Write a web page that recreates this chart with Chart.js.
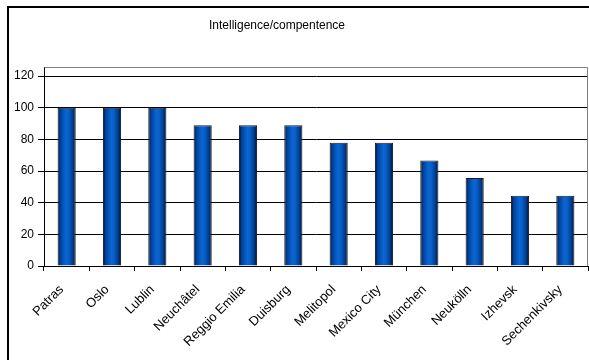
<!DOCTYPE html>
<html>
<head>
<meta charset="utf-8">
<script src="https://cdn.jsdelivr.net/npm/chart.js@4/dist/chart.umd.min.js"></script>
<style>
  html, body { margin: 0; padding: 0; background: #fff; }
  #wrap { width: 589px; height: 360px; position: relative; }
</style>
</head>
<body>
<div id="wrap"><canvas id="c" width="589" height="360"></canvas></div>
<script>
const titleText = 'Intelligence/compentence';
const categories = ['Patras', 'Oslo', 'Lublin', 'Neuchâtel', 'Reggio Emilia', 'Duisburg', 'Melitopol', 'Mexico City', 'München', 'Neukölln', 'Izhevsk', 'Sechenkivsky'];
const values = [100, 100, 100, 88.9, 88.9, 88.9, 77.8, 77.8, 66.7, 55.6, 44.4, 44.4];
const yTicks = [0, 20, 40, 60, 80, 100, 120];

Chart.defaults.font.family = '"Liberation Sans", Arial, sans-serif';
Chart.defaults.font.size = 12;
Chart.defaults.color = '#000';

function barGradient(ctx) {
  const chart = ctx.chart;
  const area = chart.chartArea;
  if (!area) return '#0050b4';
  const xs = chart.scales.x;
  const center = xs.getPixelForValue(ctx.dataIndex);
  const catW = (area.right - area.left) / categories.length;
  const half = catW * 0.4 / 2;
  const g = chart.ctx.createLinearGradient(center - half, 0, center + half, 0);
  g.addColorStop(0, '#00102a');
  g.addColorStop(0.15, '#00409a');
  g.addColorStop(0.45, '#0a66d2');
  g.addColorStop(0.6, '#0860c8');
  g.addColorStop(0.85, '#003a8c');
  g.addColorStop(1, '#000c22');
  return g;
}

const framePlugin = {
  id: 'frame',
  beforeDraw(chart) {
    const c = chart.ctx;
    c.save();
    c.fillStyle = '#fff';
    c.fillRect(0, 0, chart.width, chart.height);
    c.strokeStyle = '#000';
    c.lineWidth = 2;
    c.strokeRect(8, 7, 700, 500);
    c.restore();
  },
  beforeDatasetsDraw(chart) {
    const a = chart.chartArea;
    const c = chart.ctx;
    c.save();
    c.strokeStyle = '#808080';
    c.lineWidth = 1;
    c.beginPath();
    c.moveTo(Math.round(a.left) + 0.5, Math.round(a.top) + 0.5);
    c.lineTo(Math.round(a.right) - 0.5, Math.round(a.top) + 0.5);
    c.lineTo(Math.round(a.right) - 0.5, Math.round(a.bottom));
    c.stroke();
    c.restore();
  },
  afterDraw(chart) {
    const c = chart.ctx;
    c.save();
    c.font = '12px "Liberation Sans", Arial, sans-serif';
    c.fillStyle = '#000';
    c.textAlign = 'center';
    c.textBaseline = 'middle';
    c.fillText(titleText, 277, 26);
    c.restore();
  }
};

new Chart(document.getElementById('c'), {
  type: 'bar',
  data: {
    labels: categories,
    datasets: [{
      data: values,
      backgroundColor: barGradient,
      borderColor: '#1a1a1a',
      borderWidth: 1,
      barPercentage: 0.4,
      categoryPercentage: 1.0
    }]
  },
  options: {
    responsive: false,
    devicePixelRatio: 1,
    animation: false,
    layout: { padding: { left: 0, right: 1, top: 67, bottom: 0 } },
    plugins: { legend: { display: false }, tooltip: { enabled: false }, title: { display: false } },
    scales: {
      x: {
        offset: true,
        grid: { display: true, drawOnChartArea: false, offset: true, color: '#000', tickLength: 5 },
        border: { display: true, color: '#000', width: 1 },
        ticks: { autoSkip: false, minRotation: 45, maxRotation: 45, padding: 11, labelOffset: -5, font: { size: 13 } },
        afterFit(scale) { scale.height = 94; }
      },
      y: {
        min: 0,
        max: 125.7,
        afterBuildTicks(scale) { scale.ticks = yTicks.map(v => ({ value: v })); },
        grid: { color: '#000', tickLength: 6 },
        border: { display: true, color: '#000', width: 1 },
        ticks: { padding: 4, font: { size: 12 } },
        afterFit(scale) { scale.width = 44; }
      }
    }
  },
  plugins: [framePlugin]
});
</script>
</body>
</html>
